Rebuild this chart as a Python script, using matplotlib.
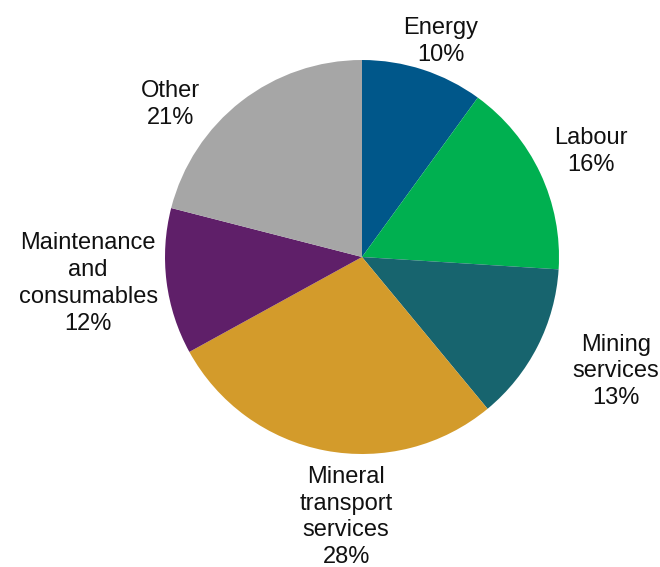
import matplotlib
matplotlib.use("Agg")
import matplotlib.pyplot as plt

plt.rcParams['font.family'] = ['Liberation Sans', 'DejaVu Sans']

categories = ["Energy", "Labour", "Mining\nservices", "Mineral\ntransport\nservices",
              "Maintenance\nand\nconsumables", "Other"]
shares = [10, 16, 13, 28, 12, 21]
colors = ["#00578A", "#00B050", "#17646E", "#D39B2B", "#5F1F69", "#A6A6A6"]

# label anchor positions in radius units
label_pos = [(0.40, 1.095), (1.16, 0.535), (1.29, -0.58), (-0.08, -1.32),
             (-1.39, -0.135), (-0.97, 0.775)]

W, H = 660, 567
fig = plt.figure(figsize=(W / 100, H / 100), dpi=100)
ax = fig.add_axes([0, 0, 1, 1])

cx, cy, r = 362, 257, 197
ax.pie(shares, colors=colors, startangle=90, counterclock=False,
       radius=1, wedgeprops=dict(linewidth=0))

for name, val, (x, y) in zip(categories, shares, label_pos):
    ax.text(x, y, f"{name}\n{val}%", ha="center", va="center",
            fontsize=17, linespacing=1.28, color="#111111")

ax.set_xlim(-cx / r, (W - cx) / r)
ax.set_ylim(-(H - cy) / r, cy / r)
ax.set_aspect("equal")
ax.axis("off")

fig.savefig("out.png", dpi=100)
